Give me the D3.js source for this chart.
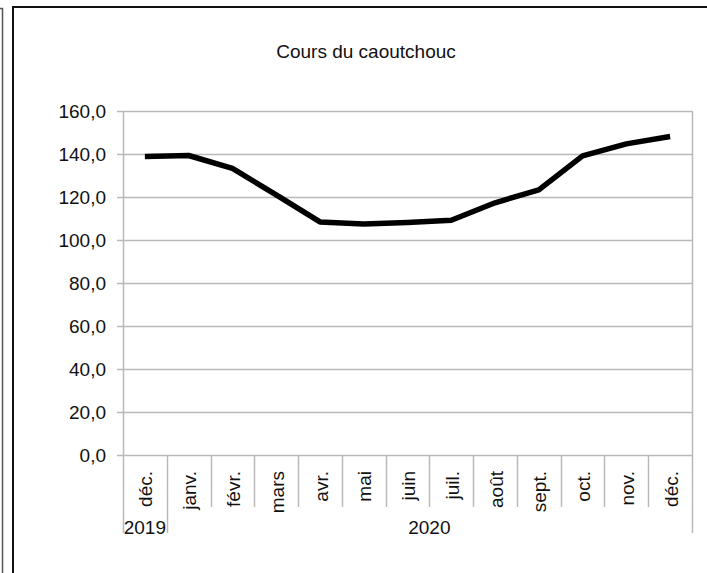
<!DOCTYPE html>
<html>
<head>
<meta charset="utf-8">
<script src="https://cdn.jsdelivr.net/npm/d3@7"></script>
<style>
  body { margin: 0; background: #fff; }
  text { font-family: "Liberation Sans", Arial, sans-serif; fill: #111; }
</style>
</head>
<body>
<div id="chart"></div>
<script>
// data
var months = ["déc.", "janv.", "févr.", "mars", "avr.", "mai", "juin", "juil.", "août", "sept.", "oct.", "nov.", "déc."];
var values = [138.8, 139.3, 133.3, 121.0, 108.4, 107.4, 108.1, 109.2, 117.3, 123.3, 139.1, 144.7, 148.1];
var years = ["2019", "2020"];
var yearSpans = [1, 12];
var yTicks = [0, 20, 40, 60, 80, 100, 120, 140, 160];
var title = "Cours du caoutchouc";

var width = 707, height = 573;
var margin = {top: 111, right: 15, bottom: 118, left: 123};
var fontSize = "19px";

var svg = d3.select("#chart")
  .append("svg")
    .attr("width", width)
    .attr("height", height);

// frames
svg.append("path")
  .attr("d", "M0,8.5H2.5V573")
  .attr("fill", "none")
  .attr("stroke", "#555")
  .attr("stroke-width", 1.5);
svg.append("path")
  .attr("d", "M13,573V7H707")
  .attr("fill", "none")
  .attr("stroke", "#111")
  .attr("stroke-width", 2);

// title
svg.append("text")
  .attr("x", 366)
  .attr("y", 58)
  .attr("text-anchor", "middle")
  .style("font-size", fontSize)
  .text(title);

var keys = months.map(function(d, i) { return i; });

var x = d3.scaleBand()
  .domain(keys)
  .range([margin.left, width - margin.right])
  .paddingInner(0)
  .paddingOuter(0);

var y = d3.scaleLinear()
  .domain([0, 160])
  .range([height - margin.bottom, margin.top]);

var fr = d3.formatLocale({decimal: ",", thousands: " ", grouping: [3], currency: ["", " €"]});
var fmt = fr.format(".1f");

var gridColor = "#b9b9b9";

// horizontal gridlines + left ticks
svg.append("g")
  .selectAll("line")
  .data(yTicks)
  .enter()
  .append("line")
    .attr("x1", x.range()[0] - 6)
    .attr("x2", x.range()[1])
    .attr("y1", function(d) { return Math.round(y(d)) + 0.5; })
    .attr("y2", function(d) { return Math.round(y(d)) + 0.5; })
    .attr("stroke", gridColor)
    .attr("stroke-width", 1.5);

// y labels
svg.append("g")
  .selectAll("text")
  .data(yTicks)
  .enter()
  .append("text")
    .attr("x", x.range()[0] - 17)
    .attr("y", function(d) { return y(d); })
    .attr("dy", "0.36em")
    .attr("text-anchor", "end")
    .style("font-size", fontSize)
    .text(function(d) { return fmt(d); });

// vertical edges of the plot
var yearBottom = 533, monthBottom = 507;
var yearStarts = [0];
yearSpans.forEach(function(s, i) { yearStarts.push(yearStarts[i] + s); });

svg.append("g")
  .selectAll("line")
  .data(d3.range(months.length + 1))
  .enter()
  .append("line")
    .attr("x1", function(i) { return Math.round(x.range()[0] + i * x.bandwidth()) + 0.5; })
    .attr("x2", function(i) { return Math.round(x.range()[0] + i * x.bandwidth()) + 0.5; })
    .attr("y1", function(i) { return (i === 0 || i === months.length) ? y(160) : y(0); })
    .attr("y2", function(i) { return yearStarts.indexOf(i) >= 0 ? yearBottom : monthBottom; })
    .attr("stroke", gridColor)
    .attr("stroke-width", 1.5);

// month labels
svg.append("g")
  .selectAll("text")
  .data(keys)
  .enter()
  .append("text")
    .attr("transform", function(i) {
      return "translate(" + (x(i) + x.bandwidth() / 2) + ",471) rotate(-90)";
    })
    .attr("dy", "0.4em")
    .attr("text-anchor", "end")
    .style("font-size", fontSize)
    .text(function(i) { return months[i]; });

// year labels
svg.append("g")
  .selectAll("text")
  .data(years)
  .enter()
  .append("text")
    .attr("x", function(d, i) {
      var a = x(yearStarts[i]);
      var b = x.range()[0] + yearStarts[i + 1] * x.bandwidth();
      return (a + b) / 2;
    })
    .attr("y", 534)
    .attr("text-anchor", "middle")
    .style("font-size", fontSize)
    .text(function(d) { return d; });

// line
var line = d3.line()
  .x(function(d, i) { return x(i) + x.bandwidth() / 2; })
  .y(function(d) { return y(d); });

svg.append("path")
  .datum(values)
  .attr("d", line)
  .attr("fill", "none")
  .attr("stroke", "#000")
  .attr("stroke-width", 5.5)
  .attr("stroke-linejoin", "round")
  .attr("stroke-linecap", "butt");
</script>
</body>
</html>
